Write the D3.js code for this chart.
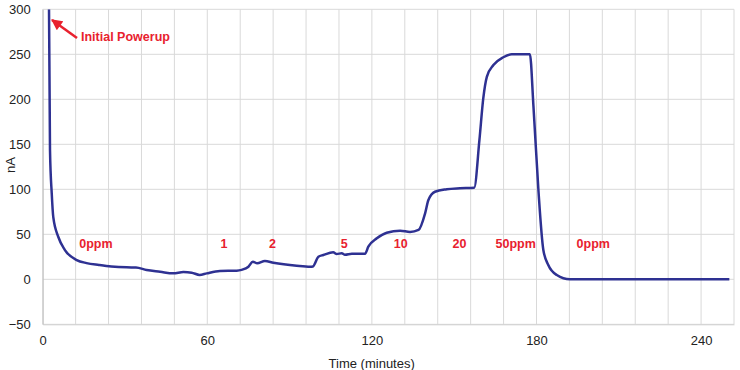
<!DOCTYPE html>
<html>
<head>
<meta charset="utf-8">
<script src="https://cdn.jsdelivr.net/npm/d3@7/dist/d3.min.js"></script>
<style>
  body { margin: 0; background: #fff; }
  svg { display: block; font-family: "Liberation Sans", Arial, sans-serif; }
</style>
</head>
<body>
<svg id="chart" width="740" height="370"></svg>
<script>
// Data
const timeMin = [2.3, 2.66, 3.3, 3.86, 5.7, 8.1, 12.4, 16, 20.5, 25, 30.6, 34, 37.9, 42.8, 47.6, 51.3, 54.3, 57.2, 59.8, 64.6, 70.7, 72.5, 75, 76.6, 78.2, 81, 84.1, 92.6, 97.5, 98.5, 100.5, 102.3, 105.9, 107.2, 109, 110.2, 112.7, 117.5, 118.7, 121.8, 125.4, 130.3, 133.9, 137, 139.4, 140.6, 143, 147.3, 152.1, 157.3, 159.2, 160.6, 161.9, 164.3, 167.9, 171, 177.6, 178.9, 180.7, 182.5, 184.3, 187.4, 192.2, 250.3];
const currentNA = [300, 143.7, 95, 69, 47, 32.5, 21.4, 18, 15.9, 14.2, 13.3, 13.2, 10.3, 8.4, 6.6, 8.1, 7.4, 4.8, 6.6, 9.2, 9.6, 10.5, 14, 19.6, 17.8, 20.3, 18.4, 15.1, 14, 14.3, 25.1, 27, 30, 28.1, 28.9, 27.3, 28.4, 28.4, 36.2, 45.5, 51.8, 54, 52.6, 54.8, 73.3, 88.1, 97.3, 100, 101.1, 101.8, 154.8, 201, 225, 238, 246.7, 250, 250, 191.8, 99.2, 32.6, 15.9, 4.8, 0, 0];

const xTicks = [0, 60, 120, 180, 240];
const xGrid = d3.range(0, 253, 12);
const yTicks = [-50, 0, 50, 100, 150, 200, 250, 300];

const annotTexts = ["0ppm", "1", "2", "5", "10", "20", "50ppm", "0ppm"];
const annotTimes = [19.4, 66.1, 83.8, 109.9, 130.5, 151.9, 172.4, 200.7];
const annotValue = 40;

const svg = d3.select("#chart");
const x = d3.scaleLinear().domain([0, 252]).range([42.7, 734]);
const y = d3.scaleLinear().domain([-50, 300]).range([324.3, 9.3]);

const gridColor = "#d9d9d9";
const font = "Liberation Sans, Arial, sans-serif";

// grid
svg.append("g").selectAll("line").data(xGrid).join("line")
  .attr("x1", d => x(d)).attr("x2", d => x(d))
  .attr("y1", y(300)).attr("y2", y(-50))
  .attr("stroke", gridColor).attr("stroke-width", 1);
svg.append("g").selectAll("line").data(yTicks).join("line")
  .attr("x1", x(0)).attr("x2", x(252))
  .attr("y1", d => y(d)).attr("y2", d => y(d))
  .attr("stroke", gridColor).attr("stroke-width", 1);

// axes
const yAxis = d3.axisLeft(y).tickValues(yTicks).tickSize(0).tickPadding(12);
const gy = svg.append("g").attr("transform", `translate(${x(0)},0)`).call(yAxis);
gy.select(".domain").attr("stroke", "#bfbfbf");
gy.selectAll("text").attr("font-size", 13).attr("fill", "#222").attr("font-family", font);

const xAxis = d3.axisBottom(x).tickValues(xTicks).tickSize(0).tickPadding(11);
const gx = svg.append("g").attr("transform", `translate(0,${y(-50)})`).call(xAxis);
gx.select(".domain").attr("stroke", "#d0d0d0");
gx.selectAll("text").attr("font-size", 13).attr("fill", "#222").attr("font-family", font);

svg.append("text").attr("x", 371.7).attr("y", 368).attr("text-anchor", "middle")
  .attr("font-size", 13).attr("fill", "#222").text("Time (minutes)");
svg.append("text").attr("transform", "translate(15,165) rotate(-90)").attr("text-anchor", "middle")
  .attr("font-size", 13).attr("fill", "#222").text("nA");

// clip
svg.append("clipPath").attr("id", "clip").append("rect")
  .attr("x", x(0)).attr("y", y(300)).attr("width", x(252) - x(0)).attr("height", y(-50) - y(300));

const pts = timeMin.map((t, i) => [t, currentNA[i]]);
const line = d3.line().x(d => x(d[0])).y(d => y(d[1])).curve(d3.curveMonotoneX);
svg.append("path").datum(pts).attr("d", line).attr("clip-path", "url(#clip)")
  .attr("fill", "none").attr("stroke", "#2e3192").attr("stroke-width", 2.5)
  .attr("stroke-linejoin", "round");

// annotations
const red = "#e8212e";
svg.append("g").selectAll("text").data(annotTexts).join("text")
  .attr("x", (d, i) => x(annotTimes[i])).attr("y", y(annotValue)).attr("dy", "0.35em")
  .attr("text-anchor", "middle").attr("font-size", 12.5).attr("font-weight", "bold")
  .attr("fill", red).text(d => d);

svg.append("text").attr("x", 81).attr("y", 37).attr("dy", "0.35em")
  .attr("font-size", 12.5).attr("font-weight", "bold").attr("fill", red).text("Initial Powerup");

svg.append("defs").append("marker").attr("id", "arrow").attr("viewBox", "0 0 10 10")
  .attr("markerUnits", "userSpaceOnUse")
  .attr("refX", 9).attr("refY", 5).attr("markerWidth", 12).attr("markerHeight", 11)
  .attr("orient", "auto").append("path").attr("d", "M0,0 L10,5 L0,10 z").attr("fill", red);
svg.append("line").attr("x1", 77).attr("y1", 38).attr("x2", 52).attr("y2", 20)
  .attr("stroke", red).attr("stroke-width", 2.5).attr("marker-end", "url(#arrow)");
</script>
</body>
</html>
